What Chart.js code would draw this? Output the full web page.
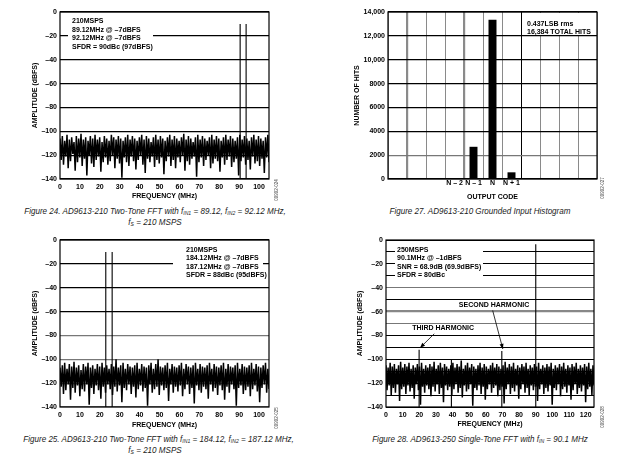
<!DOCTYPE html>
<html>
<head>
<meta charset="utf-8">
<script src="https://cdn.jsdelivr.net/npm/chart.js@4"></script>
<style>
body{margin:0;background:#fff;width:620px;height:456px;position:relative;overflow:hidden}
canvas{position:absolute}
.cap{position:absolute;text-align:center;font-family:"Liberation Sans",Arial,sans-serif;font-style:italic;font-size:9.5px;line-height:10.5px;color:#222;white-space:nowrap;transform:scaleX(0.85);transform-origin:50% 0}
.cap sub{font-size:6px;line-height:0;position:relative;top:1px;vertical-align:baseline}
</style>
</head>
<body>
<canvas id="c1" width="310" height="205" style="left:0;top:0"></canvas>
<canvas id="c2" width="310" height="205" style="left:310px;top:0"></canvas>
<canvas id="c3" width="310" height="205" style="left:0;top:228px"></canvas>
<canvas id="c4" width="310" height="205" style="left:310px;top:228px"></canvas>

<div class="cap" style="left:0;top:206px;width:310px">Figure 24. AD9613-210 Two-Tone FFT with f<sub>IN1</sub> = 89.12, f<sub>IN2</sub> = 92.12 MHz,<br>f<sub>S</sub> = 210 MSPS</div>
<div class="cap" style="left:330px;top:206px;width:300px">Figure 27. AD9613-210 Grounded Input Histogram</div>
<div class="cap" style="left:0;top:434px;width:310px">Figure 25. AD9613-210 Two-Tone FFT with f<sub>IN1</sub> = 184.12, f<sub>IN2</sub> = 187.12 MHz,<br>f<sub>S</sub> = 210 MSPS</div>
<div class="cap" style="left:330px;top:434px;width:300px">Figure 28. AD9613-250 Single-Tone FFT with f<sub>IN</sub> = 90.1 MHz</div>

<script>
/* DATA */

// figure 24: two tones near 90 MHz, noise read as alternating peak / valley (dBFS)
const fft1Tones = [90.5, 93.5];
const fft1Peaks = [-10, -10];
const fft1Info = ['210MSPS', '89.12MHz @ \u20137dBFS', '92.12MHz @ \u20137dBFS', 'SFDR = 90dBc (97dBFS)'];
const fft1Noise = [
-106,-124,-104,-128,-108,-121,-103,-131,-107,-125,-105,-119,-109,-133,-104,-126,-106,-122,-102,-129,
-107,-123,-105,-137,-108,-120,-104,-127,-106,-130,-103,-124,-107,-121,-105,-134,-109,-126,-104,-122,
-106,-128,-108,-125,-103,-120,-105,-131,-107,-123,-104,-127,-106,-139,-108,-122,-105,-126,-103,-129,
-107,-121,-104,-125,-106,-132,-108,-124,-105,-120,-103,-128,-107,-135,-104,-123,-106,-126,-109,-121,
-105,-130,-103,-124,-107,-127,-104,-122,-106,-136,-108,-125,-105,-121,-103,-129,-107,-124,-104,-131,
-106,-122,-108,-126,-105,-120,-102,-133,-107,-125,-104,-128,-106,-123,-109,-121,-105,-138,-103,-126,
-107,-122,-104,-129,-106,-124,-108,-120,-105,-131,-103,-127,-107,-123,-104,-125,-106,-134,-108,-122,
-105,-128,-103,-124,-107,-121,-104,-130,-106,-126,-108,-123,-105,-137,-103,-125,-107,-122,-104,-128,
-106,-124,-108,-132,-105,-121,-103,-127,-107,-125,-104,-129,-106,-123,-108,-135,-105,-122,-103,-126
];

// figure 27: histogram
const codeLabels = ['', '', '', 'N \u2013 2', 'N \u2013 1', 'N', 'N + 1', '', '', '', ''];
const hitCounts = [null, null, null, 80, 2700, 13350, 560, null, null, null, null];
const histInfo = ['0.437LSB rms', '16,384 TOTAL HITS'];

// figure 25: two tones near 25 MHz
const fft3Tones = [23.0, 26.2];
const fft3Peaks = [-10, -10];
const fft3Info = ['210MSPS', '184.12MHz @ \u20137dBFS', '187.12MHz @ \u20137dBFS', 'SFDR = 88dBc (95dBFS)'];
const fft3Noise = [
-107,-123,-105,-129,-103,-126,-108,-121,-104,-134,-106,-124,-102,-128,-107,-122,-105,-131,-109,-125,
-104,-127,-106,-121,-103,-138,-107,-124,-105,-129,-108,-122,-104,-126,-106,-133,-103,-123,-107,-128,
-105,-121,-108,-125,-104,-130,-106,-123,-100,-127,-107,-122,-105,-136,-103,-124,-108,-126,-104,-121,
-106,-129,-107,-123,-105,-132,-103,-125,-108,-122,-104,-127,-106,-124,-107,-139,-105,-121,-103,-128,
-108,-125,-104,-123,-100,-130,-106,-122,-107,-126,-105,-124,-103,-135,-108,-121,-104,-128,-106,-123,
-107,-127,-105,-122,-103,-131,-108,-125,-104,-121,-106,-129,-107,-124,-105,-137,-103,-122,-108,-126,
-104,-128,-106,-123,-107,-125,-105,-133,-103,-121,-108,-127,-104,-124,-106,-130,-107,-122,-105,-126,
-103,-134,-108,-123,-104,-128,-106,-121,-107,-125,-105,-139,-103,-124,-108,-122,-104,-129,-106,-126,
-107,-123,-105,-131,-103,-125,-108,-122,-104,-127,-106,-136,-107,-124,-105,-121,-103,-128,-108,-125
];

// figure 28: single tone at 90.1 MHz with harmonics
const fft4Tones = [19.9, 39.3, 69.6, 90.0];
const fft4Peaks = [-92, -100, -93, -3.5];
const harmonicNames = ['THIRD HARMONIC', 'SECOND HARMONIC'];
const harmonicIdx = [0, 2];
const fft4Info = ['250MSPS', '90.1MHz @ \u20131dBFS', 'SNR = 68.9dB (69.9dBFS)', 'SFDR = 80dBc'];
const fft4Noise = [
-105,-126,-107,-122,-103,-130,-106,-124,-104,-128,-108,-121,-105,-135,-102,-125,-107,-123,-104,-129,
-106,-122,-103,-127,-108,-124,-105,-133,-107,-121,-104,-126,-106,-138,-103,-123,-108,-128,-105,-122,
-107,-125,-104,-131,-106,-123,-102,-127,-108,-121,-105,-129,-103,-124,-107,-136,-104,-122,-106,-126,
-108,-123,-105,-130,-103,-125,-107,-121,-104,-128,-106,-124,-101,-132,-108,-122,-105,-127,-103,-125,
-107,-121,-104,-139,-106,-124,-108,-126,-105,-122,-103,-129,-107,-123,-104,-134,-106,-125,-108,-121,
-105,-128,-103,-124,-107,-122,-104,-131,-106,-126,-108,-123,-105,-137,-102,-125,-107,-121,-104,-129,
-106,-124,-103,-127,-108,-122,-105,-133,-107,-125,-104,-121,-106,-128,-103,-124,-108,-130,-105,-122,
-107,-126,-104,-123,-106,-135,-103,-125,-108,-121,-105,-129,-107,-124,-104,-127,-106,-122,-103,-138,
-108,-124,-105,-126,-107,-121,-104,-131,-106,-125,-103,-123,-108,-128,-105,-122,-107,-134,-104,-126,
-106,-121,-103,-129,-108,-124,-105,-127,-107,-122,-104,-136,-106,-125,-103,-123,-108,-130,-105,-122
];


/* SETUP */

const FONT = '"Liberation Sans", Arial, sans-serif';
Chart.defaults.font = {family: FONT, size: 7, weight: 'bold', lineHeight: 1.2};
Chart.defaults.color = '#000';

function dash(v){ return v < 0 ? '\u2013' + (-v) : String(v); }
function fixY(w){ return s => { s.width = w; s.paddingTop = 0; s.paddingBottom = 0; }; }
function fixX(h){ return s => { s.height = h; s.paddingLeft = 0; s.paddingRight = 0; }; }

// text boxes, arrows, frame and the little figure id
const notesPlugin = {
id: 'notes',
beforeDatasetsDraw(chart, args, o){
  const a = chart.chartArea, ctx = chart.ctx;
  ctx.save();
  ctx.fillStyle = '#fff';
  (o.boxes || []).forEach(b => ctx.fillRect(a.left + b[0], a.top + b[1], b[2], b[3]));
  ctx.restore();
},
afterDatasetsDraw(chart, args, o){
  const a = chart.chartArea, ctx = chart.ctx;
  const xs = chart.scales.x, ys = chart.scales.y;
  ctx.save();
  ctx.fillStyle = '#000';
  ctx.strokeStyle = '#000';
  ctx.font = 'bold 7px ' + FONT;
  ctx.textBaseline = 'middle';
  (o.lines || []).forEach((t, i) => ctx.fillText(t, a.left + o.textX, a.top + o.textY + i * 8.5));

  (o.arrows || []).forEach(ar => {
    ctx.textAlign = 'center';
    ctx.fillText(ar.text, xs.getPixelForValue(ar.labelX), ys.getPixelForValue(ar.labelY));
    const x0 = xs.getPixelForValue(ar.tailX), y0 = ys.getPixelForValue(ar.tailY);
    const x1 = xs.getPixelForValue(ar.tipX) + 1, y1 = ys.getPixelForValue(ar.tipY) - 2;
    const ang = Math.atan2(y1 - y0, x1 - x0);
    ctx.lineWidth = 0.8;
    ctx.beginPath(); ctx.moveTo(x0, y0); ctx.lineTo(x1, y1); ctx.stroke();
    ctx.beginPath();
    ctx.moveTo(x1, y1);
    ctx.lineTo(x1 - 5 * Math.cos(ang) + 2 * Math.sin(ang), y1 - 5 * Math.sin(ang) - 2 * Math.cos(ang));
    ctx.lineTo(x1 - 5 * Math.cos(ang) - 2 * Math.sin(ang), y1 - 5 * Math.sin(ang) + 2 * Math.cos(ang));
    ctx.closePath(); ctx.fill();
  });

  ctx.lineWidth = 1.2;
  ctx.strokeRect(a.left, a.top, a.width, a.height);

  ctx.font = '4.5px ' + FONT;
  ctx.fillStyle = '#444';
  ctx.textAlign = 'center';
  ctx.translate(a.right + o.idDx, a.bottom + o.idDy);
  ctx.rotate(-Math.PI / 2);
  ctx.fillText(o.id, 0, 0);
  ctx.restore();
}
};

function fftChart(id, cfg){
  const step = cfg.xMax / (cfg.noise.length - 1);
  const noisePts = cfg.noise.map((v, i) => ({x: i * step, y: v}));
  const tonePts = [];
  cfg.freqs.forEach((f, i) => tonePts.push({x: f, y: -140}, {x: f, y: cfg.peaks[i]}, {x: f, y: null}));
  return new Chart(document.getElementById(id), {
    type: 'line',
    data: {
      datasets: [
        {data: noisePts, borderColor: '#000', borderWidth: 1.5, pointRadius: 0},
        {data: tonePts, borderColor: '#000', borderWidth: 1.1, pointRadius: 0, spanGaps: false}
      ]
    },
    options: {
      responsive: false, animation: false, devicePixelRatio: 1,
      layout: {padding: cfg.pad},
      plugins: {legend: {display: false}, tooltip: {enabled: false}, notes: cfg.notes},
      scales: {
        x: {
          type: 'linear', min: 0, max: cfg.xMax,
          grid: {display: false, drawTicks: false}, border: {display: false},
          ticks: {stepSize: 10, padding: 4, autoSkip: false, maxRotation: 0, includeBounds: false},
          afterFit: fixX(cfg.xH),
          title: {display: true, text: 'FREQUENCY (MHz)', padding: 0}
        },
        y: {
          type: 'linear', min: -140, max: 0,
          grid: {
            drawTicks: false,
            color: c => c.tick ? cfg.grid(c.tick.value)[0] : '#000',
            lineWidth: c => c.tick ? cfg.grid(c.tick.value)[1] : 1
          },
          border: {display: false},
          ticks: {stepSize: cfg.yStep, padding: 3, autoSkip: false, callback: v => v % 20 === 0 ? dash(v) : ''},
          afterFit: fixY(cfg.yW),
          title: {display: true, text: 'AMPLITUDE (dBFS)', padding: 0}
        }
      }
    },
    plugins: [notesPlugin]
  });
}


/* FIGURE 24 */
fftChart('c1', {
  xMax: 105, yStep: 20, noise: fft1Noise, freqs: fft1Tones, peaks: fft1Peaks,
  grid: v => ['#000', 1.2],
  pad: {left: 30.8, top: 12, right: 41, bottom: 4.5}, yW: 29.2, xH: 21.5,
  notes: {boxes: [[8, 2, 85, 36]], textX: 12, textY: 9.5, lines: fft1Info, id: '09992-024', idDx: 8, idDy: 11}
});

/* FIGURE 25 */
fftChart('c3', {
  xMax: 105, yStep: 20, noise: fft3Noise, freqs: fft3Tones, peaks: fft3Peaks,
  grid: v => v <= -80 ? ['#777', 1.2] : ['#000', 1.2],
  pad: {left: 30.8, top: 12, right: 41, bottom: 4}, yW: 29.2, xH: 22,
  notes: {boxes: [[113, 3, 90, 28]], textX: 126, textY: 10, lines: fft3Info, id: '09992-025', idDx: 8, idDy: 11}
});

/* FIGURE 28 */
fftChart('c4', {
  xMax: 125, yStep: 10, noise: fft4Noise, freqs: fft4Tones, peaks: fft4Peaks,
  grid: v => v === -60 ? ['#888', 2.2] : (v === -40 || v === -70 ? ['#777', 1] : ['#000', 1]),
  pad: {left: 45.8, top: 12, right: 26, bottom: 4.5}, yW: 30.2, xH: 21.5,
  notes: {
    boxes: [[9, 4, 88, 36]], textX: 11, textY: 10, lines: fft4Info, id: '09992-028', idDx: 9, idDy: 10,
    arrows: [
      {text: harmonicNames[0], labelX: 34.3, labelY: -73.7, tailX: 29.0, tailY: -78.6,
       tipX: fft4Tones[harmonicIdx[0]], tipY: fft4Peaks[harmonicIdx[0]]},
      {text: harmonicNames[1], labelX: 64.9, labelY: -54.2, tailX: 64.1, tailY: -59.1,
       tipX: fft4Tones[harmonicIdx[1]], tipY: fft4Peaks[harmonicIdx[1]]}
    ]
  }
});

/* FIGURE 27 HISTOGRAM */
new Chart(document.getElementById('c2'), {
  type: 'bar',
  data: {
    labels: codeLabels,
    datasets: [{data: hitCounts, backgroundColor: '#000', barPercentage: 0.42, categoryPercentage: 1}]
  },
  options: {
    responsive: false, animation: false, devicePixelRatio: 1,
    layout: {padding: {left: 42.8, top: 12, right: 23, bottom: 4}},
    plugins: {
      legend: {display: false}, tooltip: {enabled: false},
      notes: {boxes: [[136, 1, 72, 22]], textX: 139, textY: 12, lines: histInfo, id: '09992-027', idDx: 6, idDy: 9}
    },
    scales: {
      x: {
        grid: {
          drawTicks: false,
          color: c => c.index === 7 ? '#000' : '#8a8a8a',
          lineWidth: c => (c.index === 1 || c.index === 4) ? 2.2 : 1
        },
        border: {display: false},
        ticks: {padding: 0, autoSkip: false, maxRotation: 0},
        afterFit: fixX(22),
        title: {display: true, text: 'OUTPUT CODE', padding: 0}
      },
      y: {
        min: 0, max: 14000,
        grid: {drawTicks: false, color: c => c.tick && c.tick.value === 2000 ? '#777' : '#000', lineWidth: 1.2},
        border: {display: false},
        ticks: {stepSize: 2000, padding: 3, autoSkip: false,
                callback: v => v >= 10000 ? v.toLocaleString('en-US') : String(v)},
        afterFit: fixY(35.2),
        title: {display: true, text: 'NUMBER OF HITS', padding: 0}
      }
    }
  },
  plugins: [notesPlugin]
});
</script>
</body>
</html>
